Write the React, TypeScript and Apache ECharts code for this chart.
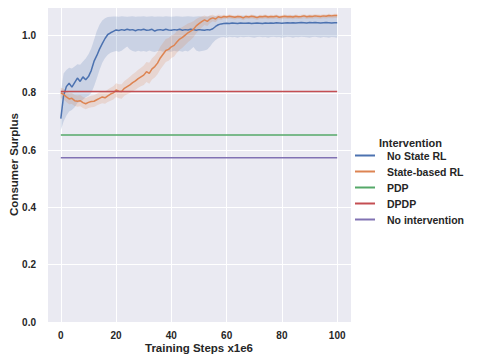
import React, { useEffect, useRef } from "react";
import * as echarts from "echarts";

const STEPS = [
  0, 1, 2, 3, 4, 5, 6, 7, 8, 9, 10, 11, 12, 13, 14, 15, 16, 17, 18, 19, 20,
  21, 22, 23, 24, 25, 26, 27, 28, 29, 30, 31, 32, 33, 34, 35, 36, 37, 38, 39, 40,
  41, 42, 43, 44, 45, 46, 47, 48, 49, 50, 51, 52, 53, 54, 55, 56, 57, 58, 59, 60,
  61, 62, 63, 64, 65, 66, 67, 68, 69, 70, 71, 72, 73, 74, 75, 76, 77, 78, 79, 80,
  81, 82, 83, 84, 85, 86, 87, 88, 89, 90, 91, 92, 93, 94, 95, 96, 97, 98, 99, 100,
];

const NO_STATE_MEAN = [
  0.71, 0.79, 0.822, 0.834, 0.82, 0.836, 0.852, 0.84, 0.856, 0.846, 0.857,
  0.878, 0.91, 0.93, 0.953, 0.972, 0.99, 1.004, 1.01, 1.015, 1.02,
  1.018, 1.021, 1.019, 1.022, 1.02, 1.021, 1.017, 1.021, 1.02, 1.022,
  1.019, 1.02, 1.022, 1.016, 1.02, 1.021, 1.019, 1.022, 1.02, 1.019,
  1.021, 1.02, 1.022, 1.019, 1.021, 1.02, 1.022, 1.021, 1.019, 1.021,
  1.02, 1.019, 1.021, 1.02, 1.024, 1.032, 1.038, 1.041, 1.042, 1.043,
  1.042, 1.044, 1.043, 1.042, 1.044, 1.043, 1.043, 1.044, 1.042, 1.043,
  1.044, 1.043, 1.042, 1.044, 1.043, 1.044, 1.043, 1.045, 1.044, 1.043,
  1.044, 1.045, 1.044, 1.045, 1.044, 1.045, 1.046, 1.045, 1.044, 1.046,
  1.045, 1.046, 1.045, 1.044, 1.045, 1.046, 1.045, 1.044, 1.045, 1.045,
];
const NO_STATE_LO = [
  0.67, 0.7, 0.72, 0.735, 0.74, 0.75, 0.765, 0.77, 0.776, 0.785, 0.79,
  0.8, 0.822, 0.85, 0.88, 0.905, 0.922, 0.933, 0.94, 0.944, 0.946,
  0.944, 0.947, 0.955, 0.962, 0.952, 0.946, 0.944, 0.947, 0.945, 0.946,
  0.944, 0.948, 0.945, 0.943, 0.946, 0.947, 0.944, 0.946, 0.945, 0.944,
  0.947, 0.945, 0.946, 0.944, 0.947, 0.945, 0.952, 0.96, 0.948, 0.945,
  0.946, 0.948, 0.952, 0.962, 0.975, 0.985, 0.991, 0.994, 0.995, 0.993,
  0.996, 0.994, 0.995, 0.993, 0.996, 0.994, 0.995, 0.996, 0.994, 0.993,
  0.995, 0.996, 0.994, 0.995, 0.993, 0.995, 0.996, 0.994, 0.995, 0.993,
  0.994, 0.996, 0.995, 0.993, 0.995, 0.994, 0.996, 0.995, 0.994, 0.993,
  0.995, 0.996, 0.994, 0.993, 0.995, 0.994, 0.993, 0.995, 0.994, 0.993,
];
const NO_STATE_HI = [
  0.8, 0.868, 0.88, 0.888, 0.885, 0.892, 0.9, 0.898, 0.91, 0.92, 0.935,
  0.955, 0.985, 1.015, 1.038, 1.053, 1.061, 1.065, 1.066, 1.067, 1.067,
  1.066, 1.068, 1.067, 1.066, 1.067, 1.068, 1.066, 1.067, 1.067, 1.068,
  1.066, 1.067, 1.068, 1.066, 1.067, 1.067, 1.066, 1.068, 1.067, 1.066,
  1.067, 1.068, 1.067, 1.066, 1.067, 1.068, 1.067, 1.066, 1.067, 1.068,
  1.067, 1.066, 1.067, 1.068, 1.067, 1.068, 1.069, 1.068, 1.069, 1.068,
  1.069, 1.068, 1.069, 1.068, 1.069, 1.07, 1.069, 1.068, 1.069, 1.07,
  1.069, 1.068, 1.069, 1.07, 1.069, 1.068, 1.069, 1.07, 1.069, 1.068,
  1.069, 1.07, 1.069, 1.07, 1.069, 1.068, 1.069, 1.07, 1.069, 1.07,
  1.069, 1.07, 1.069, 1.068, 1.069, 1.07, 1.069, 1.07, 1.069, 1.07,
];

const STATE_MEAN = [
  0.8, 0.795, 0.786, 0.779, 0.781, 0.773, 0.771, 0.773, 0.766, 0.762, 0.767,
  0.77, 0.771, 0.776, 0.781, 0.786, 0.783, 0.79, 0.796, 0.8, 0.81,
  0.806, 0.805, 0.816, 0.822, 0.828, 0.836, 0.842, 0.85, 0.856, 0.862,
  0.874, 0.868, 0.884, 0.892, 0.904, 0.922, 0.935, 0.948, 0.952, 0.961,
  0.966, 0.978, 0.988, 0.994, 1.002, 1.01, 1.016, 1.022, 1.034, 1.042,
  1.049, 1.055, 1.05, 1.058, 1.062, 1.058, 1.066, 1.063, 1.067, 1.065,
  1.068, 1.066, 1.064, 1.067, 1.066, 1.062, 1.067, 1.065, 1.068, 1.066,
  1.063, 1.067, 1.066, 1.068, 1.065, 1.067, 1.066, 1.068, 1.064, 1.066,
  1.068, 1.066, 1.067, 1.065, 1.068, 1.066, 1.067, 1.069, 1.066, 1.068,
  1.067, 1.069, 1.068, 1.067, 1.069, 1.068, 1.07, 1.069, 1.07, 1.07,
];
const STATE_LO = [
  0.782, 0.777, 0.768, 0.76, 0.761, 0.754, 0.752, 0.753, 0.747, 0.743, 0.747,
  0.75, 0.751, 0.756, 0.76, 0.764, 0.762, 0.768, 0.773, 0.777, 0.786,
  0.781, 0.78, 0.79, 0.795, 0.8, 0.806, 0.811, 0.818, 0.823, 0.828,
  0.838, 0.832, 0.847, 0.854, 0.865, 0.882, 0.895, 0.908, 0.912, 0.922,
  0.927, 0.94, 0.951, 0.958, 0.967, 0.977, 0.985, 0.994, 1.008, 1.019,
  1.028, 1.037, 1.034, 1.044, 1.05, 1.047, 1.057, 1.055, 1.059, 1.057,
  1.06, 1.058, 1.056, 1.059, 1.058, 1.054, 1.059, 1.057, 1.06, 1.058,
  1.055, 1.059, 1.058, 1.06, 1.057, 1.059, 1.058, 1.06, 1.056, 1.058,
  1.06, 1.058, 1.059, 1.057, 1.06, 1.058, 1.059, 1.061, 1.058, 1.06,
  1.059, 1.061, 1.06, 1.059, 1.061, 1.06, 1.062, 1.061, 1.062, 1.062,
];
const STATE_HI = [
  0.818, 0.815, 0.806, 0.799, 0.8, 0.793, 0.791, 0.793, 0.786, 0.782, 0.787,
  0.79, 0.792, 0.797, 0.802, 0.807, 0.805, 0.812, 0.818, 0.823, 0.834,
  0.83, 0.83, 0.842, 0.849, 0.856, 0.865, 0.872, 0.881, 0.888, 0.896,
  0.908, 0.905, 0.921, 0.93, 0.943, 0.961, 0.975, 0.988, 0.992, 1.0,
  1.005, 1.016, 1.025, 1.03, 1.036, 1.042, 1.046, 1.05, 1.058, 1.063,
  1.067, 1.07, 1.066, 1.071, 1.073, 1.069, 1.074, 1.071, 1.073, 1.071,
  1.074, 1.072, 1.07, 1.073, 1.072, 1.068, 1.073, 1.071, 1.074, 1.072,
  1.069, 1.073, 1.072, 1.074, 1.071, 1.073, 1.072, 1.074, 1.07, 1.072,
  1.074, 1.072, 1.073, 1.071, 1.074, 1.072, 1.073, 1.075, 1.072, 1.074,
  1.073, 1.075, 1.074, 1.073, 1.075, 1.074, 1.076, 1.075, 1.076, 1.076,
];

const FLAT_X = [0, 100];
const PDP_VALUE = [0.653, 0.653];
const DPDP_VALUE = [0.805, 0.805];
const NO_INTERVENTION_VALUE = [0.574, 0.574];

const LEGEND_NAMES = ["No State RL", "State-based RL", "PDP", "DPDP", "No intervention"];
const COLORS = ["#4C72B0", "#DD8452", "#55A868", "#C44E52", "#8172B3"];

const FONT = "'Liberation Sans', Arial, sans-serif";
const TEXT_COLOR = "#262626";

function band(name: string, lo: number[], hi: number[], fill: string) {
  return {
    type: "custom",
    name,
    silent: true,
    data: STEPS.map((s, i) => [s, lo[i], hi[i]]),
    encode: { x: 0, y: [1, 2] },
    renderItem: (params: any, api: any) => {
      if (params.dataIndex !== 0) return { type: "group", children: [] };
      const pts: number[][] = [];
      for (let i = 0; i < STEPS.length; i++) pts.push(api.coord([STEPS[i], hi[i]]));
      for (let i = STEPS.length - 1; i >= 0; i--) pts.push(api.coord([STEPS[i], lo[i]]));
      return { type: "polygon", shape: { points: pts }, style: { fill, stroke: "none" } };
    },
  };
}

function line(name: string, xs: number[], ys: number[], color: string) {
  return {
    type: "line",
    name,
    data: xs.map((x, i) => [x, ys[i]]),
    showSymbol: false,
    symbol: "none",
    lineStyle: { color, width: 1.5 },
    itemStyle: { color },
  };
}

export default function App() {
  const ref = useRef<HTMLDivElement>(null);
  useEffect(() => {
    const chart = echarts.init(ref.current!, undefined, { renderer: "svg" });
    chart.setOption({
      animation: false,
      backgroundColor: "#ffffff",
      grid: {
        left: 47,
        top: 7,
        right: 126,
        bottom: 40,
        containLabel: false,
        outerBoundsMode: "none",
        show: true,
        backgroundColor: "#EAEAF2",
        borderWidth: 0,
      },
      xAxis: {
        type: "value",
        min: -5,
        max: 105,
        splitNumber: 5,
        name: "Training Steps x1e6",
        nameLocation: "middle",
        nameGap: 20,
        nameMoveOverlap: false,
        nameTextStyle: { fontFamily: FONT, fontWeight: "bold", fontSize: 11.5, color: TEXT_COLOR },
        axisLine: { show: false },
        axisTick: { show: false },
        axisLabel: {
          margin: 8,
          fontFamily: FONT,
          fontWeight: "bold",
          fontSize: 10,
          color: TEXT_COLOR,
          formatter: (v: number) => (Math.abs(v % 20) < 1e-6 ? String(v) : ""),
        },
        splitLine: { show: true, lineStyle: { color: "#ffffff", width: 1 } },
      },
      yAxis: {
        type: "value",
        min: 0,
        max: 1.1,
        interval: 0.2,
        name: "Consumer Surplus",
        nameLocation: "middle",
        nameGap: 27,
        nameMoveOverlap: false,
        nameTextStyle: { fontFamily: FONT, fontWeight: "bold", fontSize: 11.5, color: TEXT_COLOR },
        axisLine: { show: false },
        axisTick: { show: false },
        axisLabel: {
          margin: 11,
          fontFamily: FONT,
          fontWeight: "bold",
          fontSize: 10,
          color: TEXT_COLOR,
          formatter: (v: number) =>
            Math.abs(v * 5 - Math.round(v * 5)) < 1e-6 ? v.toFixed(1) : "",
        },
        splitLine: { show: true, lineStyle: { color: "#ffffff", width: 1 } },
      },
      legend: {
        data: LEGEND_NAMES,
        orient: "vertical",
        left: 350,
        top: 143.5,
        icon: "rect",
        itemWidth: 20,
        itemHeight: 2,
        itemGap: 2,
        textStyle: {
          fontFamily: FONT,
          fontWeight: "bold",
          fontSize: 10.5,
          color: TEXT_COLOR,
          lineHeight: 14,
          padding: [0, 0, 0, 7],
        },
      },
      graphic: [
        {
          type: "text",
          left: 411 - 32,
          top: 137,
          style: {
            text: "Intervention",
            fontFamily: FONT,
            fontWeight: "bold",
            fontSize: 11,
            fill: TEXT_COLOR,
          },
        },
      ],
      series: [
        band("No State RL band", NO_STATE_LO, NO_STATE_HI, "rgba(76,114,176,0.2)"),
        line(LEGEND_NAMES[0], STEPS, NO_STATE_MEAN, COLORS[0]),
        band("State-based RL band", STATE_LO, STATE_HI, "rgba(221,132,82,0.2)"),
        line(LEGEND_NAMES[1], STEPS, STATE_MEAN, COLORS[1]),
        line(LEGEND_NAMES[2], FLAT_X, PDP_VALUE, COLORS[2]),
        line(LEGEND_NAMES[3], FLAT_X, DPDP_VALUE, COLORS[3]),
        line(LEGEND_NAMES[4], FLAT_X, NO_INTERVENTION_VALUE, COLORS[4]),
      ],
    });
    return () => chart.dispose();
  }, []);
  return (
    <div
      ref={ref}
      style={{ position: "absolute", left: 0, top: 0, width: 477, height: 362 }}
    />
  );
}
